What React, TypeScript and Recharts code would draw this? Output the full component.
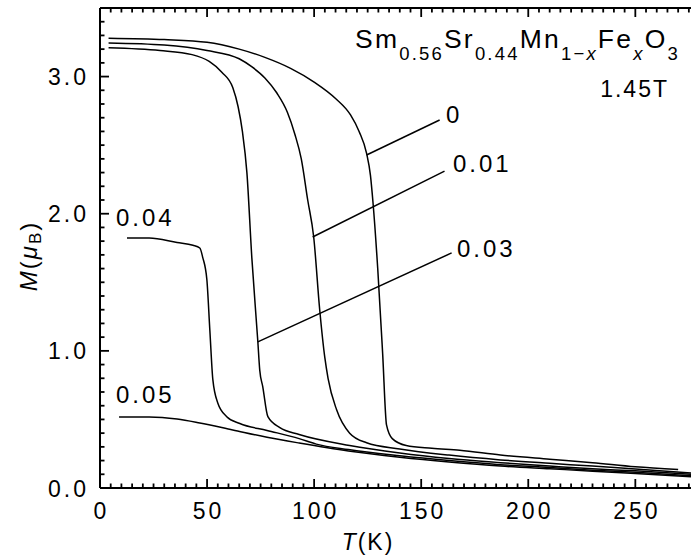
import React from "react";
import { LineChart, Line, XAxis, YAxis, ReferenceLine } from "recharts";

const FONT = "'Liberation Sans', Arial, Helvetica, sans-serif";

// x = 0
const t0 = [4, 30, 50, 65, 77, 89, 100, 110, 117, 121, 124.5, 126.3, 127.5, 129.7, 132, 133.8, 136.5, 143, 155, 168, 187, 210, 230, 250, 270];
const m0 = [3.28, 3.27, 3.25, 3.2, 3.14, 3.06, 2.96, 2.84, 2.72, 2.6, 2.44, 2.28, 2.08, 1.6, 0.98, 0.46, 0.36, 0.31, 0.29, 0.275, 0.24, 0.21, 0.185, 0.155, 0.135];
// x = 0.01
const t1 = [4, 30, 50, 65, 71, 77, 82.6, 87.5, 91, 94, 97, 99.8, 102.6, 105, 106.5, 110.5, 116.6, 124.5, 140, 163, 187, 210, 230, 250, 276];
const m1 = [3.245, 3.23, 3.19, 3.13, 3.07, 2.99, 2.88, 2.74, 2.58, 2.4, 2.1, 1.83, 1.3, 0.95, 0.8, 0.57, 0.4, 0.33, 0.285, 0.24, 0.205, 0.18, 0.16, 0.138, 0.11];
// x = 0.03
const t3 = [4, 28, 43, 51, 57, 62, 64.5, 66.5, 68.6, 70.9, 73.7, 74.6, 76, 78.4, 84, 93, 116.6, 140, 163, 187, 210, 230, 250, 276];
const m3 = [3.21, 3.19, 3.16, 3.11, 3.03, 2.92, 2.78, 2.6, 2.3, 1.68, 1.07, 0.86, 0.74, 0.52, 0.44, 0.39, 0.31, 0.255, 0.215, 0.185, 0.16, 0.14, 0.125, 0.1];
// x = 0.04
const t4 = [12.6, 23, 36, 43.4, 46.6, 48, 49.9, 51.3, 52.7, 55, 59.2, 65.3, 78, 93, 101, 116, 140, 163, 187, 210, 230, 250, 276];
const m4 = [1.823, 1.823, 1.79, 1.77, 1.75, 1.68, 1.52, 1.15, 0.79, 0.62, 0.52, 0.47, 0.42, 0.36, 0.32, 0.28, 0.235, 0.2, 0.17, 0.15, 0.13, 0.115, 0.09];
// x = 0.05
const t5 = [8.9, 23, 36, 46.6, 62, 78, 93, 116, 140, 163, 187, 210, 230, 250, 276];
const m5 = [0.518, 0.518, 0.503, 0.474, 0.423, 0.37, 0.328, 0.27, 0.225, 0.19, 0.16, 0.14, 0.123, 0.105, 0.082];

const xMajor = [0, 50, 100, 150, 200, 250];
const yMajor = [0, 1, 2, 3];
const xMinor = Array.from({ length: 56 }, (_, i) => i * 5).filter((v) => v % 50 !== 0);
const yMinor = Array.from({ length: 36 }, (_, i) => i / 10).filter((_, i) => i % 10 !== 0);

const X_MAX = 276;
const Y_MAX = 3.5;
// tick lengths, in axis units (plot is 591 x 480 px)
const KPX = X_MAX / 591;
const MPX = Y_MAX / 480;

const zip = (t: number[], m: number[]) => t.map((T, i) => ({ T, M: m[i] }));
const series = [zip(t0, m0), zip(t1, m1), zip(t3, m3), zip(t4, m4), zip(t5, m5)];

function BottomLabel({ x, y, payload }: any) {
  return (
    <text x={x + 1.5} y={y + 31} textAnchor="middle" fontSize={23} letterSpacing={3} fontFamily={FONT} fill="#000">
      {payload.value}
    </text>
  );
}

function LeftLabel({ x, y, payload }: any) {
  return (
    <text x={x - 11} y={y + 8.5} textAnchor="end" fontSize={23} letterSpacing={3} fontFamily={FONT} fill="#000">
      {Number(payload.value).toFixed(1)}
    </text>
  );
}

export default function App() {
  const xTickMarks = [
    ...xMajor.map((v) => ({ v, len: 9 })),
    ...xMinor.map((v) => ({ v, len: 4.5 })),
  ];
  const yTickMarks = [
    ...yMajor.map((v) => ({ v, len: 9 })),
    ...yMinor.map((v) => ({ v, len: 4.5 })),
  ];
  return (
    <div style={{ position: "absolute", left: 0, top: 0, width: 691, height: 555, background: "#fff" }}>
      <LineChart width={691} height={555} margin={{ top: 7, right: 0, bottom: 66, left: 99 }}>
        <XAxis
          type="number"
          dataKey="T"
          domain={[0, X_MAX]}
          allowDataOverflow
          ticks={xMajor}
          interval={0}
          height={1}
          tickSize={0}
          tickMargin={0}
          tickLine={false}
          tick={<BottomLabel />}
          axisLine={{ stroke: "#000", strokeWidth: 2 }}
        />
        <XAxis
          xAxisId="top"
          orientation="top"
          type="number"
          dataKey="T"
          domain={[0, X_MAX]}
          allowDataOverflow
          height={1}
          tick={false}
          tickLine={false}
          axisLine={{ stroke: "#000", strokeWidth: 2 }}
        />
        <YAxis
          type="number"
          domain={[0, Y_MAX]}
          allowDataOverflow
          ticks={yMajor}
          interval={0}
          width={1}
          tickSize={0}
          tickMargin={0}
          tickLine={false}
          tick={<LeftLabel />}
          axisLine={{ stroke: "#000", strokeWidth: 2 }}
        />
        {xTickMarks.map(({ v, len }) => (
          <ReferenceLine
            key={`b${v}`}
            segment={[{ x: v, y: 0 }, { x: v, y: len * MPX }]}
            ifOverflow="visible"
            stroke="#000"
            strokeWidth={1.8}
          />
        ))}
        {xTickMarks.map(({ v, len }) => (
          <ReferenceLine
            key={`t${v}`}
            segment={[{ x: v, y: Y_MAX }, { x: v, y: Y_MAX - len * MPX }]}
            ifOverflow="visible"
            stroke="#000"
            strokeWidth={1.8}
          />
        ))}
        {yTickMarks.map(({ v, len }) => (
          <ReferenceLine
            key={`l${v}`}
            segment={[{ x: 0, y: v }, { x: len * KPX, y: v }]}
            ifOverflow="visible"
            stroke="#000"
            strokeWidth={1.8}
          />
        ))}
        {series.map((d, i) => (
          <Line
            key={i}
            data={d}
            dataKey="M"
            type="monotone"
            stroke="#000"
            strokeWidth={1.5}
            dot={false}
            isAnimationActive={false}
          />
        ))}
        <ReferenceLine segment={[{ x: 124.5, y: 2.428 }, { x: 158.6, y: 2.683 }]} stroke="#000" strokeWidth={1.5} />
        <ReferenceLine segment={[{ x: 99.3, y: 1.83 }, { x: 160.9, y: 2.311 }]} stroke="#000" strokeWidth={1.5} />
        <ReferenceLine segment={[{ x: 73.7, y: 1.065 }, { x: 164.2, y: 1.714 }]} stroke="#000" strokeWidth={1.5} />
      </LineChart>
      <svg
        width={691}
        height={555}
        style={{ position: "absolute", left: 0, top: 0, pointerEvents: "none" }}
        fontFamily={FONT}
        fill="#000"
      >
        <text x={355} y={48} fontSize={26.5} letterSpacing={2.2}>
          Sm<tspan fontSize={18.5} dy={12}>0.56</tspan>
          <tspan dy={-12}>Sr</tspan><tspan fontSize={18.5} dy={12}>0.44</tspan>
          <tspan dy={-12}>Mn</tspan><tspan fontSize={18.5} dy={12}>1−<tspan fontStyle="italic">x</tspan></tspan>
          <tspan dy={-12}>Fe</tspan><tspan fontSize={18.5} dy={12} fontStyle="italic">x</tspan>
          <tspan dy={-12}>O</tspan><tspan fontSize={18.5} dy={12}>3</tspan>
        </text>
        <text x={669} y={97} fontSize={23} letterSpacing={2} textAnchor="end">1.45T</text>
        <text x={446} y={123} fontSize={24} letterSpacing={3}>0</text>
        <text x={453} y={172} fontSize={24} letterSpacing={3}>0.01</text>
        <text x={457} y={257} fontSize={24} letterSpacing={3}>0.03</text>
        <text x={116} y={226} fontSize={24} letterSpacing={3}>0.04</text>
        <text x={116} y={403} fontSize={24} letterSpacing={3}>0.05</text>
        <text x={368} y={550} fontSize={23} letterSpacing={2} textAnchor="middle">
          <tspan fontStyle="italic">T</tspan>(K)
        </text>
        <text x={0} y={0} fontSize={24} letterSpacing={2} textAnchor="middle" transform="translate(37 256) rotate(-90)">
          <tspan fontStyle="italic">M</tspan>(<tspan fontStyle="italic">μ</tspan><tspan fontSize={17} dy={4}>B</tspan><tspan dy={-4}>)</tspan>
        </text>
      </svg>
    </div>
  );
}
